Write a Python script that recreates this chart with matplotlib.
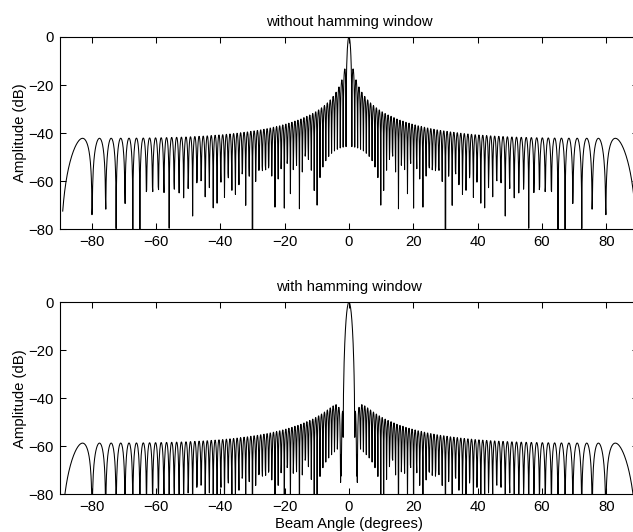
import numpy as np
import matplotlib
matplotlib.use("Agg")
import matplotlib.pyplot as plt

# ---- data / parameters ----
n_elements = 128            # array size (edge sidelobe ~ -42 dB = 1/128)
spacing_wavelengths = 0.5   # element spacing d / lambda
angle_step_deg = 0.1        # beam angle sampling step
angle_starts_deg = [-89, -90]   # first sampled angle of each panel
angle_end_deg = 90
titles = ["without hamming window", "with hamming window"]
x_ticks = [-80, -60, -40, -20, 0, 20, 40, 60, 80]
y_ticks = [-80, -60, -40, -20, 0]
x_label = "Beam Angle (degrees)"
y_label = "Amplitude (dB)"

n = np.arange(n_elements)
weights = [np.ones(n_elements), np.hamming(n_elements)]

def beam_db(theta, w):
    phase = 2 * np.pi * spacing_wavelengths * np.outer(np.sin(np.deg2rad(theta)), n)
    af = np.abs(np.exp(1j * phase) @ w) / np.sum(w)
    return 20 * np.log10(np.maximum(af, 1e-15))

plt.rcParams['font.family'] = ['Liberation Sans', 'DejaVu Sans']
fs = 10.7
fig = plt.figure(figsize=(6.33, 5.32), dpi=100)
W, H = 633, 532
positions = [(59.5, 37, 638.4, 229.3), (59.5, 302.3, 638.4, 494.3)]

for i, (w, title) in enumerate(zip(weights, titles)):
    theta = np.arange(angle_starts_deg[i], angle_end_deg + angle_step_deg / 2, angle_step_deg)
    theta = np.round(theta, 6)
    l, t, r, b = positions[i]
    ax = fig.add_axes([l / W, 1 - b / H, (r - l) / W, (b - t) / H])
    ax.plot(theta, beam_db(theta, w), color='black', linewidth=0.75)
    ax.set_xlim(-90, 90)
    ax.set_ylim(-80, 0)
    ax.set_xticks(x_ticks)
    ax.set_yticks(y_ticks)
    ax.tick_params(direction='in', length=4, width=0.75, top=True, right=True,
                   labelsize=fs, pad=4, colors='black')
    for s in ax.spines.values():
        s.set_linewidth(0.8)
    ax.set_title(title, fontsize=fs, pad=8)
    ax.set_ylabel(y_label, fontsize=fs, labelpad=1)
    if i == 1:
        ax.set_xlabel(x_label, fontsize=fs, labelpad=2.5)

fig.savefig("out.png", dpi=100)
